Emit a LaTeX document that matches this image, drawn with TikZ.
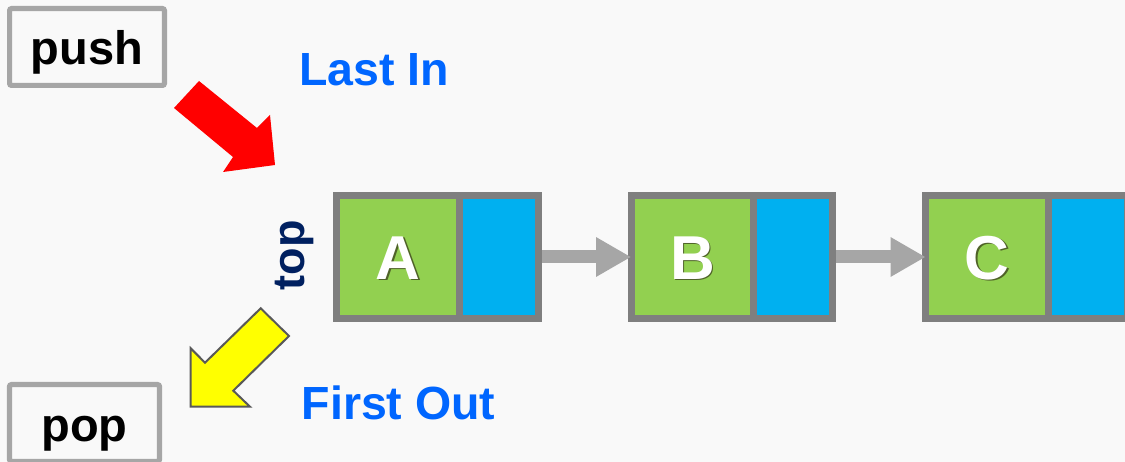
\documentclass[tikz,border=0pt]{standalone}
\usepackage{fontspec}
\setmainfont{Liberation Sans}
\usetikzlibrary{arrows.meta,positioning}

\definecolor{pagebg}{HTML}{F9F9F9}
\definecolor{cellborder}{HTML}{7F7F7F}
\definecolor{datagreen}{HTML}{92D050}
\definecolor{ptrblue}{HTML}{00B0F0}
\definecolor{linkgray}{HTML}{A6A6A6}
\definecolor{opgray}{HTML}{A6A6A6}
\definecolor{captionblue}{HTML}{0066FF}
\definecolor{topnavy}{HTML}{002060}
\definecolor{pushred}{HTML}{FF0000}
\definecolor{popyellow}{HTML}{FFFF00}
\definecolor{yellowedge}{HTML}{595959}
\definecolor{lettershade}{HTML}{4F6228}

% white letter with a small dark drop shadow
\newcommand{\lettershadow}[1]{\rlap{\hspace{1.4pt}\raisebox{-1.4pt}{\textcolor{lettershade}{#1}}}#1}

\begin{document}
\begin{tikzpicture}[x=1pt,y=-1pt,
  datacell/.style={draw=cellborder, line width=7.3pt, fill=datagreen,
    minimum width=122.6pt, minimum height=122.6pt, inner sep=0pt,
    outer sep=0pt, text=white, font=\bfseries\fontsize{62}{62}\selectfont,
    text height=44.4pt, text depth=0pt},
  ptrcell/.style={draw=cellborder, line width=7.3pt, fill=ptrblue,
    minimum width=79pt, minimum height=122.6pt, inner sep=0pt,
    outer sep=0pt},
  link/.style={draw=linkgray, line width=13pt,
    -{Triangle[length=35pt,width=37pt]}},
  opbox/.style={draw=opgray, line width=5.2pt, rounded corners=2pt,
    fill=pagebg, minimum width=154.8pt, minimum height=76.8pt,
    inner sep=0pt, font=\bfseries\fontsize{47}{47}\selectfont,
    text height=36pt, text depth=0pt},
  caption/.style={text=captionblue, inner sep=0pt,
    font=\bfseries\fontsize{46.5}{46.5}\selectfont}
]
\useasboundingbox (0,0) rectangle (1125,462);
\clip (0,0) rectangle (1125,462);
\fill[pagebg] (0,0) rectangle (1125,462);

% stack operations
\node[opbox] (push) at (87,47) {push};
\node[opbox, minimum width=150pt] (pop) at (84.5,423) {pop};

% push / pop arrows
\fill[pushred] (174,108) -- (199,81) -- (257,128) -- (270,115)
  -- (275,165) -- (223,172) -- (233,157) -- cycle;
\filldraw[fill=popyellow, draw=yellowedge, line width=2pt]
  (260.7,308.3) -- (289,336) -- (233.3,390.7) -- (250,406.7)
  -- (190.7,406.7) -- (190.7,348.3) -- (205,362.7) -- cycle;

% captions
\node[caption, anchor=base west] (lastin) at (299,86) {Last In};
\node[caption, anchor=base west] (firstout) at (301.5,420) {First Out};
\node[rotate=90, anchor=base, inner sep=0pt, text=topnavy,
  font=\bfseries\fontsize{45}{45}\selectfont] (toplabel) at (304,255.5) {top};

% linked list nodes
\node[datacell] (A) at (398,257) {\lettershadow{A}};
\node[ptrcell, right=0pt of A] (Ap) {};
\node[datacell] (B) at (692.5,257) {\lettershadow{B}};
\node[ptrcell, right=0pt of B] (Bp) {};
\node[datacell] (C) at (987,257) {\lettershadow{C}};
\node[ptrcell, right=0pt of C] (Cp) {};

% next pointers
\draw[link] ([xshift=3.65pt]Ap.east) -- (B.west);
\draw[link] ([xshift=3.65pt]Bp.east) -- (C.west);
\end{tikzpicture}
\end{document}
